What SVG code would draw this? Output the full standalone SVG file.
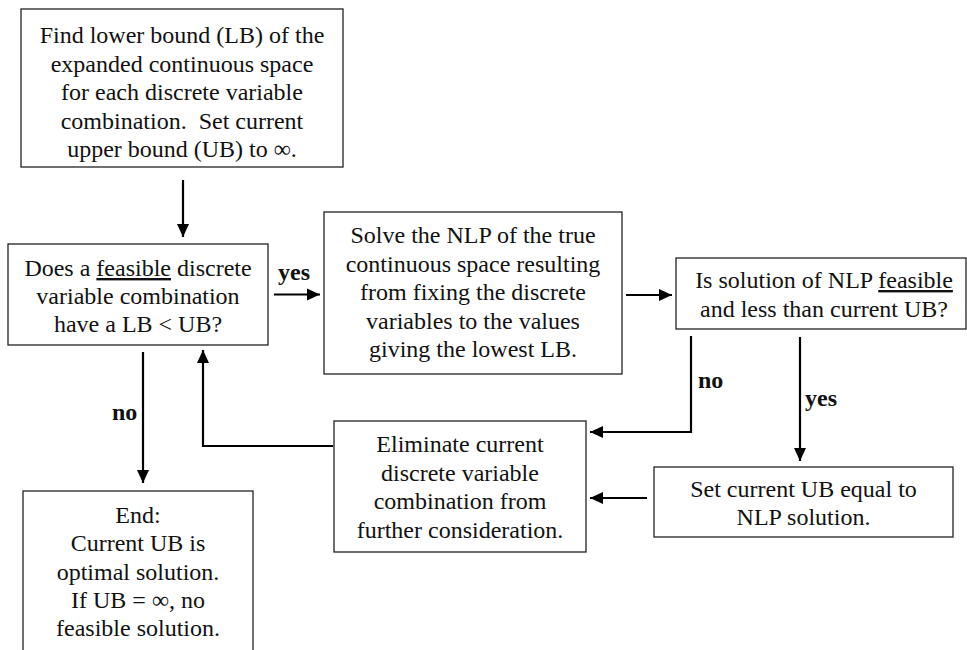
<svg xmlns="http://www.w3.org/2000/svg" width="967" height="650" viewBox="0 0 967 650">
<style>
  .box { fill: #ffffff; stroke: #222222; stroke-width: 1.3; }
  .t { font-family: "Liberation Serif", Tinos, "Times New Roman", "DejaVu Serif", serif; font-size: 24px; fill: #111111; text-anchor: middle; }
  .lbl { font-family: "Liberation Serif", Tinos, "Times New Roman", "DejaVu Serif", serif; font-size: 24px; fill: #111111; font-weight: bold; }
  .conn { fill: none; stroke: #000000; stroke-width: 2.2; }
  .arr { marker-end: url(#ah); }
</style>
<defs>
  <marker id="ah" markerUnits="userSpaceOnUse" markerWidth="13" markerHeight="13" refX="13" refY="6.5" orient="auto">
    <path d="M0,0.5 L13,6.5 L0,12.5 z" fill="#000000"/>
  </marker>
</defs>
<rect width="967" height="650" fill="#ffffff"/>

<g id="n1">
  <rect class="box" x="21" y="9" width="322" height="158"/>
  <text class="t" x="182" y="43">Find lower bound (LB) of the</text>
  <text class="t" x="182" y="71.5">expanded continuous space</text>
  <text class="t" x="182" y="100">for each discrete variable</text>
  <text class="t" x="182" y="128.5" xml:space="preserve">combination.  Set current</text>
  <text class="t" x="182" y="157">upper bound (UB) to ∞.</text>
</g>

<g id="n2">
  <rect class="box" x="8" y="244" width="260" height="101"/>
  <text class="t" x="138" y="276">Does a <tspan text-decoration="underline">feasible</tspan> discrete</text>
  <text class="t" x="138" y="304">variable combination</text>
  <text class="t" x="138" y="332">have a LB &lt; UB?</text>
</g>

<g id="n3">
  <rect class="box" x="324" y="212" width="298" height="162"/>
  <text class="t" x="473" y="243">Solve the NLP of the true</text>
  <text class="t" x="473" y="271.5">continuous space resulting</text>
  <text class="t" x="473" y="300">from fixing the discrete</text>
  <text class="t" x="473" y="328.5">variables to the values</text>
  <text class="t" x="473" y="357">giving the lowest LB.</text>
</g>

<g id="n4">
  <rect class="box" x="676" y="258" width="290" height="71"/>
  <text class="t" x="824" y="288">Is solution of NLP <tspan text-decoration="underline">feasible</tspan></text>
  <text class="t" x="824" y="316.5">and less than current UB?</text>
</g>

<g id="n5">
  <rect class="box" x="334" y="421" width="252" height="131"/>
  <text class="t" x="460" y="452">Eliminate current</text>
  <text class="t" x="460" y="480.5">discrete variable</text>
  <text class="t" x="460" y="509">combination from</text>
  <text class="t" x="460" y="537.5">further consideration.</text>
</g>

<g id="n6">
  <rect class="box" x="654" y="467" width="299" height="70"/>
  <text class="t" x="803.5" y="497">Set current UB equal to</text>
  <text class="t" x="803.5" y="525">NLP solution.</text>
</g>

<g id="n7">
  <rect class="box" x="23" y="491" width="230" height="175"/>
  <text class="t" x="138" y="523">End:</text>
  <text class="t" x="138" y="551">Current UB is</text>
  <text class="t" x="138" y="580">optimal solution.</text>
  <text class="t" x="138" y="608">If UB = ∞, no</text>
  <text class="t" x="138" y="636">feasible solution.</text>
</g>

<g id="connectors">
  <path class="conn arr" d="M183,180 L183,237"/>
  <path class="conn arr" d="M274,294.5 L320,294.5"/>
  <path class="conn arr" d="M626,295 L672,295"/>
  <path class="conn arr" d="M143,352 L143,483"/>
  <path class="conn arr" d="M691,336 L691,432 L590,432"/>
  <path class="conn arr" d="M800,337 L800,461"/>
  <path class="conn arr" d="M647,498 L590,498"/>
  <path class="conn arr" d="M333,446 L203,446 L203,350"/>
  <text class="lbl" x="278" y="280">yes</text>
  <text class="lbl" x="112" y="420">no</text>
  <text class="lbl" x="698" y="388">no</text>
  <text class="lbl" x="805" y="406">yes</text>
</g>
</svg>
